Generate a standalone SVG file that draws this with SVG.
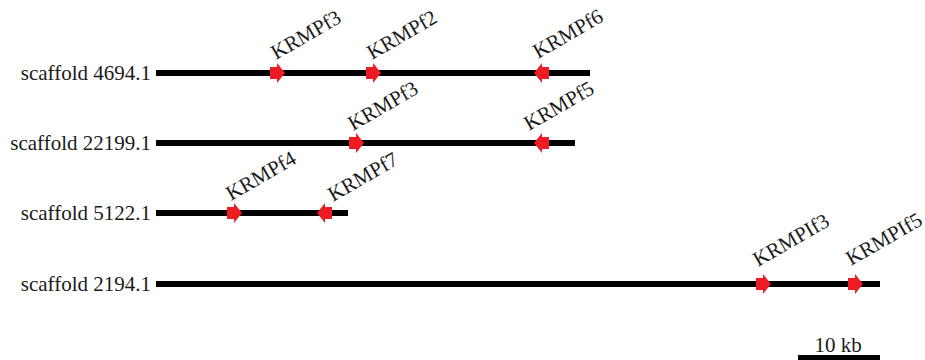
<svg xmlns="http://www.w3.org/2000/svg" width="925" height="360" viewBox="0 0 925 360">
<style>
  text { font-family: "Liberation Serif", "Times New Roman", serif; fill: #1a1a1a; }
  .lab { font-size: 21px; text-anchor: end; }
  .gene { font-size: 21px; }
  .bar { stroke: #000; stroke-width: 6; }
  .arr { fill: #ed1c24; }
</style>
<defs>
  <polygon id="ar" points="0,-6 7,-6 7,-10 15,0 7,10 7,6 0,6"/>
  <polygon id="al" points="15,-6 8,-6 8,-10 0,0 8,10 8,6 15,6"/>
</defs>
<rect width="925" height="360" fill="#fff"/>
<g id="scaffold-4694">
  <text class="lab" x="151" y="80">scaffold 4694.1</text>
  <line class="bar" x1="156" y1="73" x2="590" y2="73"/>
  <use href="#ar" class="arr" x="270" y="73"/>
  <use href="#ar" class="arr" x="366" y="73"/>
  <use href="#al" class="arr" x="534" y="73"/>
  <text class="gene" transform="translate(276,60) rotate(-30)">KRMPf3</text>
  <text class="gene" transform="translate(372,60) rotate(-30)">KRMPf2</text>
  <text class="gene" transform="translate(538,59) rotate(-30)">KRMPf6</text>
</g>
<g id="scaffold-22199">
  <text class="lab" x="151" y="150">scaffold 22199.1</text>
  <line class="bar" x1="156" y1="143" x2="575" y2="143"/>
  <use href="#ar" class="arr" x="349" y="143"/>
  <use href="#al" class="arr" x="534" y="143"/>
  <text class="gene" transform="translate(353,131) rotate(-30)">KRMPf3</text>
  <text class="gene" transform="translate(529,131) rotate(-30)">KRMPf5</text>
</g>
<g id="scaffold-5122">
  <text class="lab" x="151" y="220">scaffold 5122.1</text>
  <line class="bar" x1="156" y1="213" x2="348" y2="213"/>
  <use href="#ar" class="arr" x="227" y="213"/>
  <use href="#al" class="arr" x="317" y="213"/>
  <text class="gene" transform="translate(231,201) rotate(-30)">KRMPf4</text>
  <text class="gene" transform="translate(333,202) rotate(-30)">KRMPf7</text>
</g>
<g id="scaffold-2194">
  <text class="lab" x="151" y="291">scaffold 2194.1</text>
  <line class="bar" x1="156" y1="284" x2="880" y2="284"/>
  <use href="#ar" class="arr" x="756" y="284"/>
  <use href="#ar" class="arr" x="848" y="284"/>
  <text class="gene" transform="translate(758,267) rotate(-30)">KRMPIf3</text>
  <text class="gene" transform="translate(851,266) rotate(-30)">KRMPIf5</text>
</g>
<g id="scale-bar">
  <text x="838" y="352" font-size="21" text-anchor="middle">10 kb</text>
  <line class="bar" x1="798" y1="358" x2="880" y2="358"/>
</g>
<g id="connectors"/>
</svg>
